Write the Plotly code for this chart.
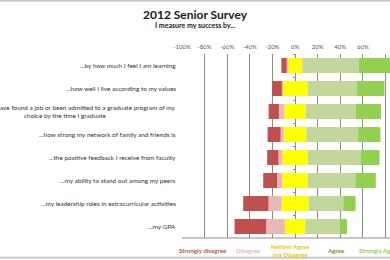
import plotly.graph_objects as go

# survey statements (top to bottom)
categories = [
    "...by how much I feel I am learning",
    "...how well I live according to my values",
    "...by whether I have found a job or been admitted to a graduate program of my<br>choice by the time I graduate",
    "...how strong my network of family and friends is",
    "...the positive feedback I receive from faculty",
    "...my ability to stand out among my peers",
    "...my leadership roles in extracurricular activities",
    "...my GPA",
]

# percent of respondents
strongly_disagree = [4.5, 8.5, 9.1, 11.5, 10.0, 12.4, 22.4, 28.0]
disagree = [1.2, 0.5, 4.8, 2.7, 3.3, 4.4, 11.5, 16.5]
neutral = [12.8, 22.5, 18.9, 20.1, 22.7, 22.7, 23.9, 18.0]
agree = [50.0, 43.6, 44.2, 45.7, 46.6, 41.9, 30.7, 31.2]
strongly_agree = [31.5, 24.2, 22.4, 19.8, 16.8, 18.2, 10.9, 5.7]

tick_vals = [-100, -80, -60, -40, -20, 0, 20, 40, 60, 80]
tick_labels = ["-100%", "-80%", "-60%", "-40%", "-20%", "0%", "20%", "40%", "60%", "80%"]

legend_names = ["Strongly disagree", "Disagree", "Neither Agree<br>nor Disagree", "Agree", "Strongly Agree"]

c_sd, c_d, c_n, c_a, c_sa = "#c0504d", "#e6b9b8", "#ffff00", "#c3d69b", "#92d050"
FONT = "Lato"

fig = go.Figure()

# relative stacking: negatives grow left from 0, positives grow right, in trace order
def bar(vals, color):
    fig.add_trace(go.Bar(y=categories, x=vals, orientation="h", marker_color=color,
                         marker_line_width=0, width=0.65, showlegend=False, hoverinfo="skip"))

bar([-v / 2 for v in neutral], c_n)
bar([v / 2 for v in neutral], c_n)
bar([-v for v in disagree], c_d)
bar(agree, c_a)
bar([-v for v in strongly_disagree], c_sd)
bar(strongly_agree, c_sa)

# row labels (right aligned block, centred lines like the original)
for cat in categories:
    fig.add_annotation(x=-0.022, xref="paper", y=cat, yref="y", text=cat, showarrow=False,
                       xanchor="right", align="center", borderpad=0,
                       font=dict(size=6.45, color="#333333", family=FONT))

# legend-like coloured captions under the chart
legend_x = [0.1, 0.32, 0.524, 0.74, 0.845]
legend_colors = ["#c0504d", "#e6b9b8", "#f5c400", "#76923c", "#92d050"]
for name, lx, col, anc in zip(legend_names, legend_x, legend_colors,
                              ["center", "center", "center", "center", "left"]):
    fig.add_annotation(x=lx, xref="paper", y=-0.068, yref="paper", text="<b>" + name + "</b>",
                       showarrow=False, xanchor=anc, yanchor="middle", align="center",
                       borderpad=0, font=dict(size=6.2, color=col, family=FONT))

# title and subtitle, centred on the page
page_mid = -0.875 + 1.875 * 0.5
fig.add_annotation(x=page_mid, xref="paper", y=1.217, yref="paper", text="<b>2012 Senior Survey</b>",
                   showarrow=False, xanchor="center", yanchor="middle",
                   font=dict(size=12, color="#1a1a1a", family=FONT))
fig.add_annotation(x=page_mid, xref="paper", y=1.158, yref="paper", text="<b>I measure my success by...</b>",
                   showarrow=False, xanchor="center", yanchor="middle",
                   font=dict(size=7, color="#1a1a1a", family=FONT))

fig.update_layout(
    width=390, height=260,
    margin=dict(l=182, r=0, t=54, b=22),
    barmode="relative",
    paper_bgcolor="white", plot_bgcolor="white",
    font=dict(family=FONT, color="#404040"),
    xaxis=dict(side="top", range=[-100, 84], tickvals=tick_vals, ticktext=tick_labels,
               showgrid=True, gridcolor="#8c8c8c", gridwidth=1, zeroline=False, automargin=False,
               ticks="", ticklabelstandoff=3, tickfont=dict(size=6, color="#595959")),
    yaxis=dict(autorange="reversed", showticklabels=False, showgrid=False, zeroline=False,
               automargin=False, anchor="free", position=113 / 208, ticks="outside", ticklen=2,
               tickcolor="#8c8c8c", tickson="boundaries", showline=False),
    shapes=[
        dict(type="line", xref="paper", yref="paper", x0=0, x1=1, y0=0, y1=0,
             line=dict(color="#8c8c8c", width=1)),
        dict(type="line", xref="paper", yref="paper", x0=-0.875, x1=1, y0=1.29, y1=1.29,
             line=dict(color="#c8c8c8", width=2)),
        dict(type="line", xref="paper", yref="paper", x0=-0.875, x1=1, y0=-0.108, y1=-0.108,
             line=dict(color="#c8c8c8", width=2)),
    ],
)

# drop the browser's default page margin so the figure sits at the window's corner
fig.write_html("out.html", config={"displayModeBar": False},
               post_script="document.body.style.margin='0';")
